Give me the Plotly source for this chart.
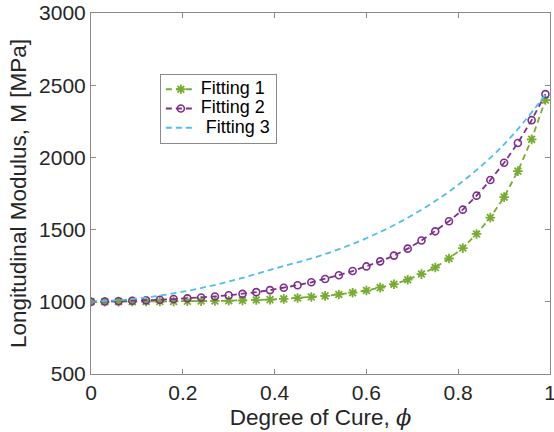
import plotly.graph_objects as go

# Degree of cure sampling used for the two fitted series
phi = [round(0.03 * i, 2) for i in range(34)]

fitting1 = [1000, 1000, 1001, 1001, 1002, 1002, 1003, 1004, 1005, 1006,
            1007, 1009, 1012, 1015, 1020, 1026, 1033, 1041, 1051, 1063,
            1078, 1098, 1122, 1153, 1192, 1238, 1300, 1372, 1470, 1583,
            1725, 1905, 2125, 2397]

fitting2 = [1000, 1002, 1004, 1007, 1010, 1014, 1019, 1024, 1030, 1037,
            1045, 1055, 1067, 1081, 1097, 1115, 1135, 1158, 1184, 1213,
            1245, 1280, 1320, 1368, 1424, 1488, 1558, 1638, 1735, 1843,
            1963, 2100, 2258, 2438]

phi3 = [0.0, 0.1, 0.2, 0.3, 0.4, 0.5, 0.6, 0.7, 0.8, 0.9, 0.99]
fitting3 = [1000, 1022, 1070, 1140, 1230, 1320, 1440, 1600, 1810, 2090, 2434]

x_ticks = [0, 0.2, 0.4, 0.6, 0.8, 1]
x_ticklabels = ["0", "0.2", "0.4", "0.6", "0.8", "1"]
y_ticks = [500, 1000, 1500, 2000, 2500, 3000]

GREEN = "#77AC30"
PURPLE = "#7E2F8E"
BLUE = "#4DBEEE"
FONT = "Liberation Sans, Arial, sans-serif"
AXIS_GREY = "#8a8a8a"


def legend_label(text):
    # larger glyphs inside a compact legend row
    return f'<span style="font-size:18px">{text}</span>'


fig = go.Figure()

fig.add_trace(go.Scatter(
    x=phi, y=fitting1, name=legend_label("Fitting 1"), mode="lines+markers",
    line=dict(color=GREEN, width=1.8, dash="6px,4px"),
    marker=dict(symbol="asterisk-open", size=8,
                line=dict(color=GREEN, width=1.8), color=GREEN),
))

fig.add_trace(go.Scatter(
    x=phi, y=fitting2, name=legend_label("Fitting 2"), mode="lines+markers",
    line=dict(color=PURPLE, width=1.8, dash="6px,4px"),
    marker=dict(symbol="circle-open", size=7,
                line=dict(color=PURPLE, width=1.6), color=PURPLE),
))

fig.add_trace(go.Scatter(
    x=phi3, y=fitting3, name=legend_label("\u00a0Fitting 3"), mode="lines",
    line=dict(color=BLUE, width=1.8, dash="6px,4px", shape="spline"),
))

axis_common = dict(
    showline=True, linecolor=AXIS_GREY, linewidth=1, mirror="ticks",
    ticks="inside", ticklen=5, tickcolor=AXIS_GREY, tickwidth=1,
    showgrid=False, zeroline=False, automargin=False,
    ticklabeloverflow="allow",
    tickfont=dict(family=FONT, size=21, color="#262626"),
)

fig.update_layout(
    width=554, height=432,
    margin=dict(l=91, r=4, t=13, b=58, autoexpand=False),
    paper_bgcolor="white", plot_bgcolor="white",
    font=dict(family=FONT, color="#262626"),
    showlegend=True,
    legend=dict(
        x=0.150, y=0.832, xanchor="left", yanchor="top",
        bgcolor="white", bordercolor=AXIS_GREY, borderwidth=1,
        font=dict(family=FONT, size=12.5, color="#000000"),
        tracegroupgap=0, itemwidth=30,
    ),
    xaxis=dict(
        range=[0, 1], tickvals=x_ticks, ticktext=x_ticklabels,
        title=dict(
            text="Degree of Cure, <span style=\"font-family:'DejaVu Serif', serif\"><i>\u03d5</i></span>",
            font=dict(family=FONT, size=22.5, color="#262626"), standoff=3),
        **axis_common,
    ),
    yaxis=dict(
        range=[500, 3000], tickvals=y_ticks,
        title=dict(text="Longitudinal Modulus, M [MPa]",
                   font=dict(family=FONT, size=22.5, color="#262626"), standoff=6),
        **axis_common,
    ),
)

fig.write_html("out.html")
